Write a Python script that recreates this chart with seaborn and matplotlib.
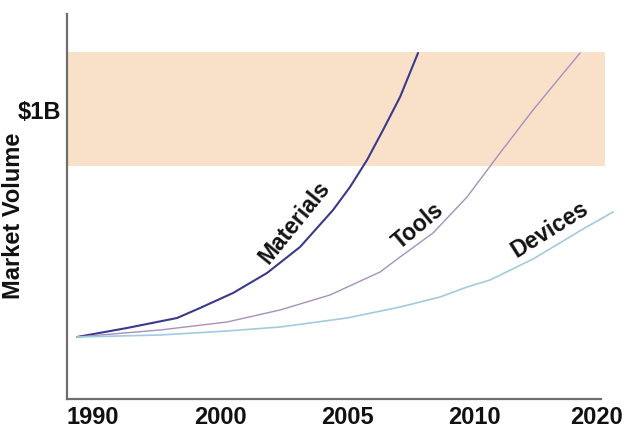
import matplotlib
matplotlib.use("Agg")
import matplotlib.pyplot as plt
from matplotlib.transforms import ScaledTranslation
import seaborn as sns
import pandas as pd

# Sample points along each growth curve (x = tick index, y = market volume, $1B = 1.0)
materials_x = [-0.252, 0.535, 1.323, 1.685, 2.205, 2.740, 3.260, 3.780, 4.047, 4.315, 4.567, 4.835, 5.118]
materials_y = [0.2145, 0.2457, 0.2803, 0.3149, 0.3668, 0.4360, 0.5260, 0.6540, 0.7336, 0.8270, 0.9308, 1.0450, 1.1972]

tools_x = [-0.252, 1.055, 2.110, 2.945, 3.732, 4.520, 4.835, 5.354, 5.890, 6.409, 6.929, 7.669]
tools_y = [0.2145, 0.2388, 0.2664, 0.3080, 0.3599, 0.4394, 0.4913, 0.5744, 0.6990, 0.8512, 1.0000, 1.1972]

devices_x = [-0.252, 1.055, 2.110, 2.945, 4.000, 4.835, 5.465, 5.890, 6.252, 6.929, 7.717, 8.189]
devices_y = [0.2145, 0.2215, 0.2353, 0.2491, 0.2803, 0.3183, 0.3529, 0.3875, 0.4118, 0.4844, 0.5882, 0.6471]

tick_positions = [0, 1, 2, 3, 4, 5, 6, 7, 8]
tick_labels = ["1990", "", "2000", "", "2005", "", "2010", "", "2020"]

band_low, band_high = 0.806, 1.20
billion_level = 1.0

series_names = ["Materials", "Tools", "Devices"]
series_colors = {"Materials": "#3a3a8c", "Tools": "#a690bf", "Devices": "#a2cae2"}
series_widths = {"Materials": 1.5, "Tools": 1.0, "Devices": 1.2}

frames = []
for name, xs, ys in [("Materials", materials_x, materials_y),
                     ("Tools", tools_x, tools_y),
                     ("Devices", devices_x, devices_y)]:
    frames.append(pd.DataFrame({"x": xs, "y": ys, "series": name}))
df = pd.concat(frames, ignore_index=True)

sns.set_theme(style="white")
plt.rcParams["font.family"] = ["Liberation Sans", "DejaVu Sans"]

fig = plt.figure(figsize=(6.25, 4.29), dpi=100)
ax = fig.add_axes([0.1072, 0.0699, 0.885, 0.8975])

x_min, x_max = -0.41, 8.3

# Shaded target band around the $1B level
ax.axhspan(band_low, band_high, xmin=0, xmax=(8.06 - x_min) / (x_max - x_min),
           color="#f9e0c9", zorder=0, lw=0)

for name in series_names:
    sub = df[df["series"] == name]
    sns.lineplot(data=sub, x="x", y="y", ax=ax, color=series_colors[name],
                 lw=series_widths[name], sort=False, legend=False,
                 estimator=None, zorder=3)

ax.set_xlim(x_min, x_max)
ax.set_ylim(0, 1.332)

# Curve labels
label_kw = dict(fontsize=16.5, fontweight="bold", color="#111111",
                ha="center", va="center", rotation_mode="anchor")
ax.text(3.18, 0.61, "Materials", rotation=51, **label_kw)
ax.text(5.12, 0.60, "Tools", rotation=40, **label_kw)
ax.text(7.2, 0.585, "Devices", rotation=32, **label_kw)

# Axes styling
for side in ["top", "right"]:
    ax.spines[side].set_visible(False)
for side in ["left", "bottom"]:
    ax.spines[side].set_color("#6e6e6e")
    ax.spines[side].set_linewidth(1.6)
ax.spines["bottom"].set_bounds(x_min, 8.0)

ax.set_xticks(tick_positions)
ax.set_xticklabels(tick_labels)
ax.tick_params(axis="x", direction="in", length=16, width=1.4, color="#555555",
               pad=5, labelsize=17, labelcolor="#111111")
for lbl in ax.get_xticklabels():
    lbl.set_fontweight("bold")
last = ax.get_xticklabels()[-1]
last.set_transform(last.get_transform() + ScaledTranslation(-0.05, 0, fig.dpi_scale_trans))

ax.set_yticks([billion_level])
ax.set_yticklabels(["$1B"])
ax.tick_params(axis="y", length=0, pad=4, labelsize=17, labelcolor="#111111")
for lbl in ax.get_yticklabels():
    lbl.set_fontweight("bold")

ax.set_xlabel("")
ax.set_ylabel("Market Volume", fontsize=17, fontweight="bold", color="#111111")
ax.yaxis.set_label_coords(-0.076, 0.475)

fig.savefig("out.png", dpi=100)
